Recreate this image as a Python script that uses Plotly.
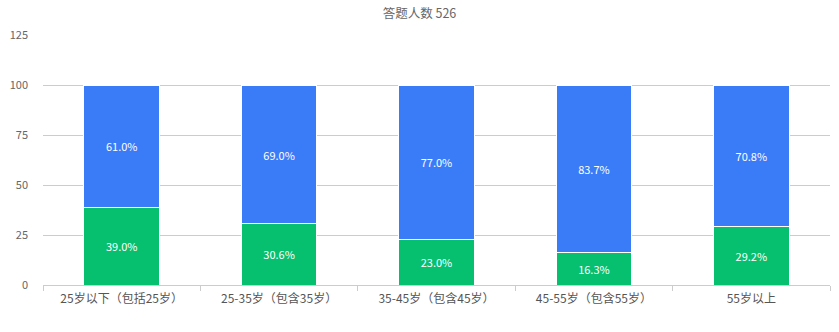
import plotly.graph_objects as go

categories = ["25岁以下（包括25岁）", "25-35岁（包含35岁）", "35-45岁（包含45岁）", "45-55岁（包含55岁）", "55岁以上"]
green_vals = [39.0, 30.6, 23.0, 16.3, 29.2]
blue_vals = [61.0, 69.0, 77.0, 83.7, 70.8]
series_names = ["是", "否"]
subtitle = "答题人数 526"

FONT = "Noto Sans CJK SC, Microsoft YaHei, sans-serif"

fig = go.Figure()
fig.add_trace(go.Bar(
    x=categories, y=green_vals, name=series_names[0],
    marker=dict(color="#06BF6F", line=dict(color="white", width=1)),
    text=[f"{v:.1f}%" for v in green_vals], textposition="inside",
    insidetextanchor="middle", textfont=dict(color="white", size=11, family=FONT),
))
fig.add_trace(go.Bar(
    x=categories, y=blue_vals, name=series_names[1],
    marker=dict(color="#3A7BF7", line=dict(color="white", width=1)),
    text=[f"{v:.1f}%" for v in blue_vals], textposition="inside",
    insidetextanchor="middle", textfont=dict(color="white", size=11, family=FONT),
))

fig.update_layout(
    barmode="stack",
    bargap=0.52,
    width=839, height=332,
    margin=dict(l=43, r=9, t=35, b=47),
    paper_bgcolor="white", plot_bgcolor="white",
    showlegend=False,
    font=dict(family=FONT, color="#666", size=11),
    uniformtext=dict(minsize=11, mode="show"),
    title=dict(text=subtitle, x=0.5, xref="container", xanchor="center",
               y=1 - 14 / 332, yref="container", yanchor="middle",
               font=dict(size=12.5, color="#666", family=FONT)),
)
fig.update_yaxes(range=[0, 125], dtick=25, showgrid=True, gridcolor="#CCCCCC",
                 gridwidth=1, zeroline=False, ticks="", ticklabelstandoff=14,
                 tickfont=dict(size=11, color="#666"))
fig.update_xaxes(showline=True, linecolor="#CCCCCC", ticks="outside",
                 tickson="boundaries", ticklen=5, tickcolor="#CCCCCC",
                 ticklabelstandoff=3,
                 tickfont=dict(size=12, color="#555"))

fig.write_html("out.html")
